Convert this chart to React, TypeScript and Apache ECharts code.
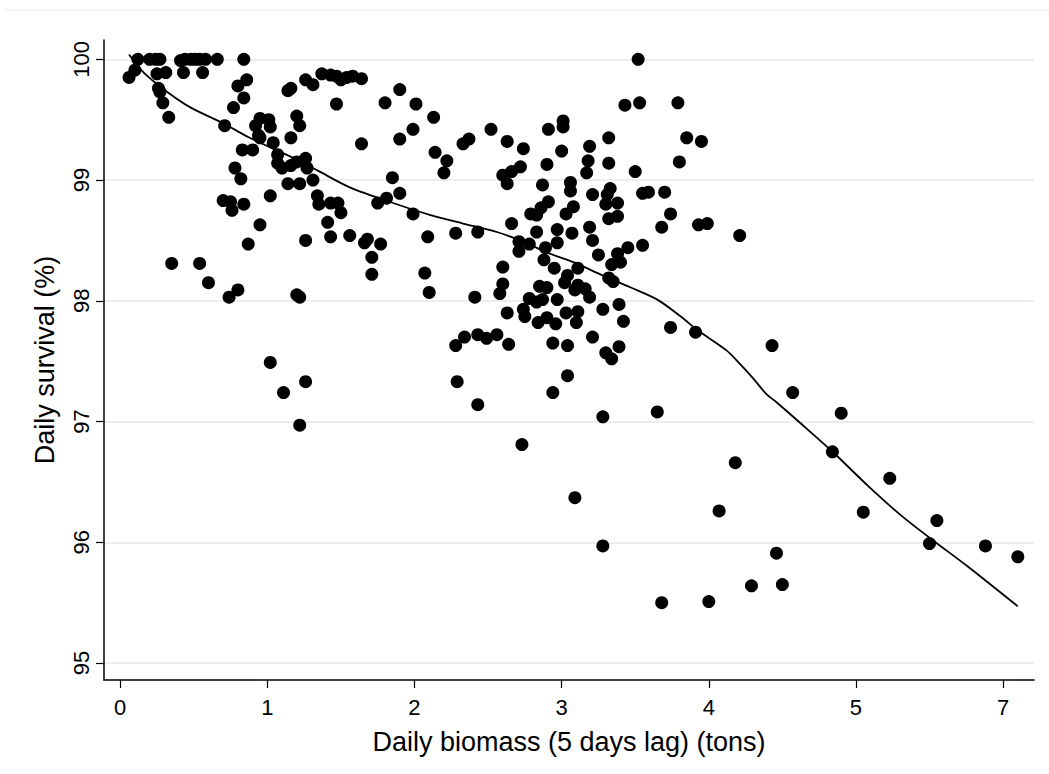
import React, { useEffect, useRef } from "react";
import * as echarts from "echarts";

// Daily biomass (5 days lag), axis units (tick positions 0..6)
const biomass = [
  0.06, 0.10, 0.12, 0.20, 0.24, 0.27, 0.25, 0.31, 0.26, 0.27, 0.29, 0.33, 0.41, 0.44, 0.48, 0.51, 0.54, 0.58, 0.66, 0.43,
  0.56, 0.84, 0.86, 0.80, 0.84, 0.77, 0.71, 0.83, 0.90, 0.78, 0.82, 0.92, 0.95, 1.01, 1.02, 0.94, 0.95, 1.04, 1.07, 1.07,
  1.10, 1.16, 1.20, 1.26, 1.27, 1.14, 1.16, 1.16, 1.20, 1.22, 1.14, 1.22, 1.31, 1.02, 0.70, 0.75, 0.76, 0.84, 0.95, 1.26,
  1.31, 1.37, 1.43, 1.47, 1.50, 1.54, 1.58, 1.64, 1.47, 1.34, 1.35, 1.43, 1.48, 1.50, 1.41, 0.87, 1.26, 1.43, 1.56, 0.35,
  0.54, 0.60, 0.74, 0.80, 1.20, 1.22, 1.02, 1.11, 1.26, 1.22, 1.68, 1.66, 1.77, 1.71, 1.71, 1.85, 1.81, 1.75, 1.90, 1.99,
  2.09, 2.28, 2.07, 2.10, 2.20, 2.22, 2.28, 1.80, 1.90, 2.01, 2.13, 1.64, 1.99, 1.90, 2.14, 2.52, 2.63, 2.74, 2.33, 2.37,
  2.60, 2.66, 2.72, 2.63, 2.91, 3.01, 3.01, 3.00, 2.90, 2.87, 3.06, 3.06, 3.08, 3.03, 2.91, 2.86, 2.79, 2.83, 2.66, 2.83,
  2.97, 3.07, 2.43, 3.30, 3.38, 3.32, 3.38, 3.19, 3.21, 2.71, 2.78, 2.71, 2.89, 2.97, 2.88, 2.95, 3.25, 3.38, 3.45, 3.40,
  3.34, 3.55, 3.68, 3.74, 2.60, 2.60, 2.58, 3.11, 3.04, 3.02, 3.11, 3.16, 3.09, 3.19, 2.85, 2.90, 2.78, 2.83, 2.87, 2.97,
  2.41, 2.63, 2.74, 2.75, 2.90, 2.84, 2.96, 3.03, 3.11, 3.10, 3.28, 3.39, 3.42, 3.74, 2.34, 2.43, 2.49, 2.56, 2.64, 2.94,
  3.04, 3.21, 3.30, 3.34, 3.39, 2.29, 2.43, 3.04, 2.94, 3.28, 3.65, 2.73, 3.09, 3.28, 3.52, 3.43, 3.53, 3.79, 3.32, 3.19,
  3.85, 3.95, 3.18, 3.17, 3.32, 3.50, 3.80, 3.33, 3.31, 3.21, 3.55, 3.59, 3.70, 3.93, 3.99, 4.21, 3.32, 3.35, 3.91, 4.43,
  4.57, 4.90, 4.84, 4.18, 5.23, 4.07, 5.05, 5.55, 5.50, 5.88, 6.10, 4.46, 4.29, 4.50, 3.68, 4.00,
];

// Daily survival (%)
const survival = [
  99.85, 99.91, 100.0, 100.0, 100.0, 100.0, 99.88, 99.89, 99.76, 99.73, 99.64, 99.52, 99.99, 100.0, 100.0, 100.0, 100.0, 100.0, 100.0, 99.89,
  99.89, 100.0, 99.83, 99.78, 99.68, 99.60, 99.45, 99.25, 99.25, 99.10, 99.01, 99.45, 99.51, 99.50, 99.44, 99.37, 99.35, 99.31, 99.21, 99.14,
  99.10, 99.12, 99.15, 99.18, 99.10, 99.74, 99.76, 99.35, 99.53, 99.45, 98.97, 98.97, 99.00, 98.87, 98.83, 98.82, 98.75, 98.80, 98.63, 99.83,
  99.79, 99.88, 99.87, 99.86, 99.83, 99.85, 99.86, 99.84, 99.63, 98.87, 98.80, 98.81, 98.81, 98.73, 98.65, 98.47, 98.50, 98.53, 98.54, 98.31,
  98.31, 98.15, 98.03, 98.09, 98.05, 98.03, 97.49, 97.24, 97.33, 96.97, 98.51, 98.48, 98.47, 98.36, 98.22, 99.02, 98.85, 98.81, 98.89, 98.72,
  98.53, 98.56, 98.23, 98.07, 99.06, 99.16, 97.63, 99.64, 99.75, 99.63, 99.52, 99.30, 99.42, 99.34, 99.23, 99.42, 99.32, 99.26, 99.30, 99.34,
  99.04, 99.07, 99.11, 98.97, 99.42, 99.49, 99.44, 99.24, 99.13, 98.96, 98.98, 98.91, 98.78, 98.72, 98.82, 98.77, 98.72, 98.71, 98.64, 98.57,
  98.59, 98.56, 98.57, 98.80, 98.81, 98.68, 98.70, 98.61, 98.50, 98.49, 98.47, 98.41, 98.44, 98.48, 98.34, 98.27, 98.38, 98.39, 98.44, 98.32,
  98.30, 98.46, 98.61, 98.72, 98.28, 98.14, 98.06, 98.27, 98.21, 98.15, 98.13, 98.10, 98.09, 98.03, 98.12, 98.11, 98.02, 97.99, 98.01, 98.01,
  98.03, 97.90, 97.93, 97.87, 97.86, 97.82, 97.81, 97.90, 97.91, 97.82, 97.93, 97.97, 97.83, 97.78, 97.70, 97.72, 97.69, 97.72, 97.64, 97.65,
  97.63, 97.70, 97.57, 97.52, 97.62, 97.33, 97.14, 97.38, 97.24, 97.04, 97.08, 96.81, 96.37, 95.97, 100.0, 99.62, 99.64, 99.64, 99.35, 99.28,
  99.35, 99.32, 99.16, 99.06, 99.14, 99.07, 99.15, 98.93, 98.88, 98.88, 98.89, 98.90, 98.90, 98.63, 98.64, 98.54, 98.19, 98.16, 97.74, 97.63,
  97.24, 97.07, 96.75, 96.66, 96.53, 96.26, 96.25, 96.18, 95.99, 95.97, 95.88, 95.91, 95.64, 95.65, 95.50, 95.51,
];

// Smoothed (lowess) fit
const fitX = [
  0.06, 0.16, 0.32, 0.48, 0.70, 0.88, 1.04, 1.18, 1.34, 1.56, 1.88, 2.11, 2.33, 2.56, 2.74, 2.90, 3.08, 3.28, 3.47, 3.65,
  3.81, 3.92, 4.12, 4.21, 4.30, 4.39, 4.46, 4.62, 4.85, 5.08, 5.30, 5.52, 5.76, 6.10,
];
const fitY = [
  100.04, 99.89, 99.73, 99.60, 99.47, 99.35, 99.26, 99.18, 99.08, 98.94, 98.80, 98.71, 98.64, 98.57, 98.49, 98.40, 98.32, 98.21, 98.11, 98.01,
  97.87, 97.76, 97.59, 97.48, 97.36, 97.23, 97.16, 96.99, 96.74, 96.47, 96.23, 96.02, 95.80, 95.47,
];

const xTickValues = [0, 1, 2, 3, 4, 5, 6];
const xTickLabels = ["0", "1", "2", "3", "4", "5", "7"];
const yTickValues = [95, 96, 97, 98, 99, 100];

const FONT = "Liberation Sans, Arial, Helvetica, sans-serif";

export default function App() {
  const ref = useRef<HTMLDivElement>(null);

  useEffect(() => {
    document.body.style.margin = "0";
    if (!ref.current) return;
    const chart = echarts.init(ref.current, undefined, { renderer: "svg" });
    const scatterData = biomass.map((x, i) => [x, survival[i]]);
    const fitData = fitX.map((x, i) => [x, fitY[i]]);
    chart.setOption({
      animation: false,
      backgroundColor: "#ffffff",
      textStyle: { fontFamily: FONT },
      grid: { left: 104, right: 15, top: 40, bottom: 94, containLabel: false },
      graphic: [
        {
          type: "line",
          shape: { x1: 5, y1: 10, x2: 1049, y2: 10 },
          style: { stroke: "#e6ecee", lineWidth: 1 },
          silent: true,
        },
      ],
      xAxis: {
        type: "value",
        min: -0.11,
        max: 6.21,
        name: "Daily biomass (5 days lag) (tons)",
        nameLocation: "middle",
        nameGap: 48,
        nameTextStyle: { fontSize: 27, color: "#000", fontFamily: FONT },
        axisLine: { show: true, onZero: false, lineStyle: { color: "#000", width: 1.5 } },
        axisTick: { show: true, length: 8, customValues: xTickValues, lineStyle: { color: "#000", width: 1.2 } },
        axisLabel: {
          customValues: xTickValues,
          formatter: (v: number) => xTickLabels[xTickValues.indexOf(Math.round(v))] ?? "",
          fontSize: 22,
          color: "#000",
          margin: 16,
          fontFamily: FONT,
        },
        splitLine: { show: false },
      },
      yAxis: {
        type: "value",
        min: 94.86,
        max: 100.16,
        name: "Daily survival (%)",
        nameLocation: "middle",
        nameGap: 46,
        nameRotate: 90,
        nameTextStyle: { fontSize: 27, color: "#000", fontFamily: FONT },
        axisLine: { show: true, onZero: false, lineStyle: { color: "#000", width: 1.5 } },
        axisTick: { show: true, length: 8, customValues: yTickValues, lineStyle: { color: "#000", width: 1.2 } },
        axisLabel: {
          customValues: yTickValues,
          rotate: 90,
          fontSize: 22,
          color: "#000",
          margin: 12,
          fontFamily: FONT,
        },
        splitLine: { show: true, lineStyle: { color: "#e8eef1", width: 2 } },
      },
      series: [
        {
          type: "scatter",
          data: scatterData,
          symbol: "circle",
          symbolSize: 13,
          itemStyle: { color: "#000", opacity: 1 },
          z: 2,
        },
        {
          type: "line",
          data: fitData,
          showSymbol: false,
          symbol: "none",
          smooth: 0.3,
          lineStyle: { color: "#000", width: 1.8 },
          z: 3,
        },
      ],
    });
    return () => chart.dispose();
  }, []);

  return <div ref={ref} style={{ width: 1049, height: 774 }} />;
}
